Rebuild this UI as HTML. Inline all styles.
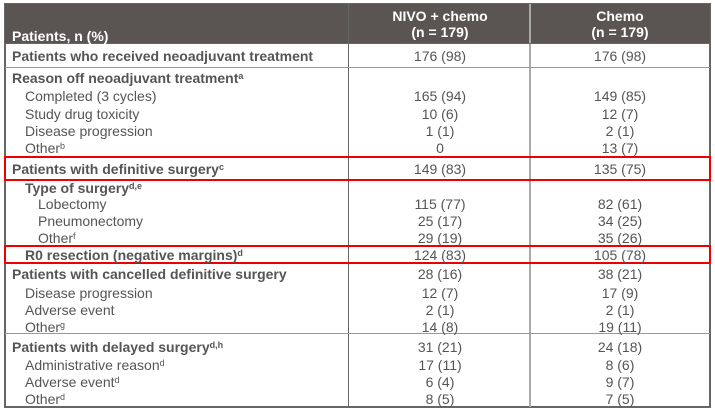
<!DOCTYPE html>
<html><head><meta charset="utf-8"><style>
body{margin:0;width:715px;height:414px;background:#fff;position:relative;overflow:hidden;font-family:"Liberation Sans",sans-serif;color:#555;font-size:14px}
.a{position:absolute;white-space:nowrap;line-height:16px;margin-top:1px}
.b{font-weight:bold}
.h{position:absolute;left:5px;width:705px;height:1px;background:#999}
.c{position:absolute;width:120px;text-align:center}
sup{font-size:9px;vertical-align:4px;line-height:0}
</style></head><body>
<div style="position:absolute;left:4px;top:3px;width:707px;height:405px;border:2px solid #666;box-sizing:border-box"></div>
<div style="position:absolute;left:5px;top:4px;width:705px;height:39px;background:#5a5553"></div>
<div style="position:absolute;left:348px;top:4px;width:1px;height:403px;background:#666"></div>
<div style="position:absolute;left:529px;top:4px;width:2px;height:403px;background:#aaa"></div>
<div class="h" style="top:43px;background:#666"></div>
<div class="h" style="top:67px"></div>
<div class="h" style="top:180px"></div>
<div class="h" style="top:333px"></div>
<div style="position:absolute;left:4px;top:156px;width:707px;height:25px;border:2px solid #e00;box-sizing:border-box"></div>
<div style="position:absolute;left:4px;top:245px;width:707px;height:19px;border:2px solid #e00;box-sizing:border-box"></div>

<div class="a b" style="left:12px;top:27px;color:#fff">Patients, n (%)</div>
<div class="a b c" style="left:380px;top:7px;color:#fff">NIVO + chemo</div>
<div class="a b c" style="left:380px;top:23px;color:#fff">(n = 179)</div>
<div class="a b c" style="left:560px;top:7px;color:#fff">Chemo</div>
<div class="a b c" style="left:560px;top:23px;color:#fff">(n = 179)</div>

<div class="a b" style="left:12px;top:47px">Patients who received neoadjuvant treatment</div>
<div class="a b" style="left:12px;top:69px">Reason off neoadjuvant treatment<sup>a</sup></div>
<div class="a" style="left:25px;top:87px">Completed (3 cycles)</div>
<div class="a" style="left:25px;top:105px">Study drug toxicity</div>
<div class="a" style="left:25px;top:122px">Disease progression</div>
<div class="a" style="left:25px;top:139px">Other<sup>b</sup></div>
<div class="a b" style="left:12px;top:160px">Patients with definitive surgery<sup>c</sup></div>
<div class="a b" style="left:25px;top:179px">Type of surgery<sup>d,e</sup></div>
<div class="a" style="left:38px;top:195px">Lobectomy</div>
<div class="a" style="left:38px;top:212px">Pneumonectomy</div>
<div class="a" style="left:38px;top:229px">Other<sup>f</sup></div>
<div class="a b" style="left:25px;top:246px">R0 resection (negative margins)<sup>d</sup></div>
<div class="a b" style="left:12px;top:265px">Patients with cancelled definitive surgery</div>
<div class="a" style="left:25px;top:284px">Disease progression</div>
<div class="a" style="left:25px;top:301px">Adverse event</div>
<div class="a" style="left:25px;top:318px">Other<sup>g</sup></div>
<div class="a b" style="left:12px;top:338px">Patients with delayed surgery<sup>d,h</sup></div>
<div class="a" style="left:25px;top:356px">Administrative reason<sup>d</sup></div>
<div class="a" style="left:25px;top:373px">Adverse event<sup>d</sup></div>
<div class="a" style="left:25px;top:390px">Other<sup>d</sup></div>

<div class="a c" style="left:380px;top:47px">176 (98)</div><div class="a c" style="left:560px;top:47px">176 (98)</div>
<div class="a c" style="left:380px;top:87px">165 (94)</div><div class="a c" style="left:560px;top:87px">149 (85)</div>
<div class="a c" style="left:380px;top:105px">10 (6)</div><div class="a c" style="left:560px;top:105px">12 (7)</div>
<div class="a c" style="left:380px;top:122px">1 (1)</div><div class="a c" style="left:560px;top:122px">2 (1)</div>
<div class="a c" style="left:380px;top:139px">0</div><div class="a c" style="left:560px;top:139px">13 (7)</div>
<div class="a c" style="left:380px;top:160px">149 (83)</div><div class="a c" style="left:560px;top:160px">135 (75)</div>
<div class="a c" style="left:380px;top:195px">115 (77)</div><div class="a c" style="left:560px;top:195px">82 (61)</div>
<div class="a c" style="left:380px;top:212px">25 (17)</div><div class="a c" style="left:560px;top:212px">34 (25)</div>
<div class="a c" style="left:380px;top:229px">29 (19)</div><div class="a c" style="left:560px;top:229px">35 (26)</div>
<div class="a c" style="left:380px;top:246px">124 (83)</div><div class="a c" style="left:560px;top:246px">105 (78)</div>
<div class="a c" style="left:380px;top:265px">28 (16)</div><div class="a c" style="left:560px;top:265px">38 (21)</div>
<div class="a c" style="left:380px;top:284px">12 (7)</div><div class="a c" style="left:560px;top:284px">17 (9)</div>
<div class="a c" style="left:380px;top:301px">2 (1)</div><div class="a c" style="left:560px;top:301px">2 (1)</div>
<div class="a c" style="left:380px;top:318px">14 (8)</div><div class="a c" style="left:560px;top:318px">19 (11)</div>
<div class="a c" style="left:380px;top:338px">31 (21)</div><div class="a c" style="left:560px;top:338px">24 (18)</div>
<div class="a c" style="left:380px;top:356px">17 (11)</div><div class="a c" style="left:560px;top:356px">8 (6)</div>
<div class="a c" style="left:380px;top:373px">6 (4)</div><div class="a c" style="left:560px;top:373px">9 (7)</div>
<div class="a c" style="left:380px;top:390px">8 (5)</div><div class="a c" style="left:560px;top:390px">7 (5)</div>
</body></html>
